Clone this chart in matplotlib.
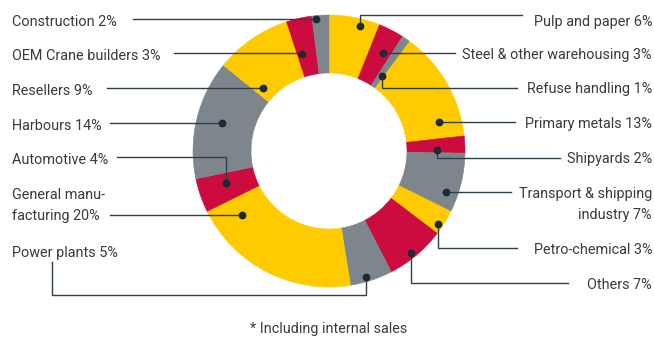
import matplotlib
matplotlib.use("Agg")
import matplotlib.pyplot as plt
import numpy as np

# ---------------- data ----------------
names = ["Pulp and paper", "Steel & other warehousing", "Refuse handling",
         "Primary metals", "Shipyards", "Transport & shipping\nindustry",
         "Petro-chemical", "Others", "Power plants", "General manu-\nfacturing",
         "Automotive", "Harbours", "Resellers", "OEM Crane builders",
         "Construction"]
values = [6, 3, 1, 13, 2, 7, 3, 7, 5, 20, 4, 14, 9, 3, 2]
footnote = "* Including internal sales"

# ---------------- style ----------------
W, H = 654, 337
YEL, RED, GRY = "#FECB00", "#CC0C3E", "#7D868C"
colors = [YEL, RED, GRY] * 5
TXT = "#3a3a3a"
LINE = "#2f3f4a"
DOT = "#1c2b36"
FONT = ["Roboto", "DejaVu Sans"]
FS = 10.4

# donut geometry (pixels, y measured from top)
CX, CY, R_OUT, R_IN = 329, 151, 136, 78

# label layout: side, baselines, leader y, leader start x, dot frac in wedge, dot radius
layout = [
    ("R", [26], 15, 522, 0.64, 129),
    ("R", [59], 53, 455, 0.65, 112),
    ("R", [93], 88, 517, 0.68, 92),
    ("R", [128], 122, 515, 0.82, 114),
    ("R", [163], 158, 560, 0.81, 108),
    ("R", [198, 219], 192, 511, 0.72, 124),
    ("R", [254], 248, 517, 0.68, 131),
    ("R", [289], 283, 568, 0.55, 131),
    ("P", [257], 262, 52, 0.60, 131),
    ("L", [199, 220], 215, 110, 0.86, 108),
    ("L", [164], 157, 117, 0.62, 108),
    ("L", [130], 123, 110, 0.52, 111),
    ("L", [95], 88, 107, 0.14, 91),
    ("L", [60], 53, 174, 0.24, 101),
    ("L", [26], 19, 133, 0.23, 132.6),
]


def yp(y):
    return H - y


fig = plt.figure(figsize=(W / 100, H / 100), dpi=100)
ax = fig.add_axes([0, 0, 1, 1])

wedges, _ = ax.pie(values, colors=colors, startangle=90, counterclock=False,
                   radius=R_OUT, center=(CX, yp(CY)),
                   wedgeprops=dict(width=R_OUT - R_IN, linewidth=0.4))
for w, c in zip(wedges, colors):
    w.set_edgecolor(c)

ax.set_xlim(0, W)
ax.set_ylim(0, H)
ax.set_aspect("auto")
ax.axis("off")

for w, name, val, (side, bases, ly, lx, frac, rd) in zip(wedges, names, values, layout):
    ang = np.deg2rad(w.theta2 - frac * (w.theta2 - w.theta1))
    dx = CX + rd * np.cos(ang)
    dy = yp(CY) + rd * np.sin(ang)
    lines = f"{name} {val}%".split("\n")
    for t, b in zip(lines, bases):
        if side == "R":
            ax.text(652, yp(b), t, ha="right", va="baseline", fontsize=FS,
                    family=FONT, color=TXT)
        else:
            ax.text(12, yp(b), t, ha="left", va="baseline", fontsize=FS,
                    family=FONT, color=TXT)
    if side == "P":
        xs = [lx, lx, dx, dx]
        ys = [yp(ly), yp(295), yp(295), dy]
    else:
        xs = [lx, dx, dx]
        ys = [yp(ly), yp(ly), dy]
    ax.plot(xs, ys, color=LINE, lw=1.0, solid_joinstyle="miter", zorder=3)
    ax.plot([dx], [dy], "o", ms=4.6, color=DOT, zorder=4)

ax.text(329, yp(333), footnote, ha="center", va="baseline", fontsize=FS,
        family=FONT, color=TXT)

fig.savefig("out.png", dpi=100)
